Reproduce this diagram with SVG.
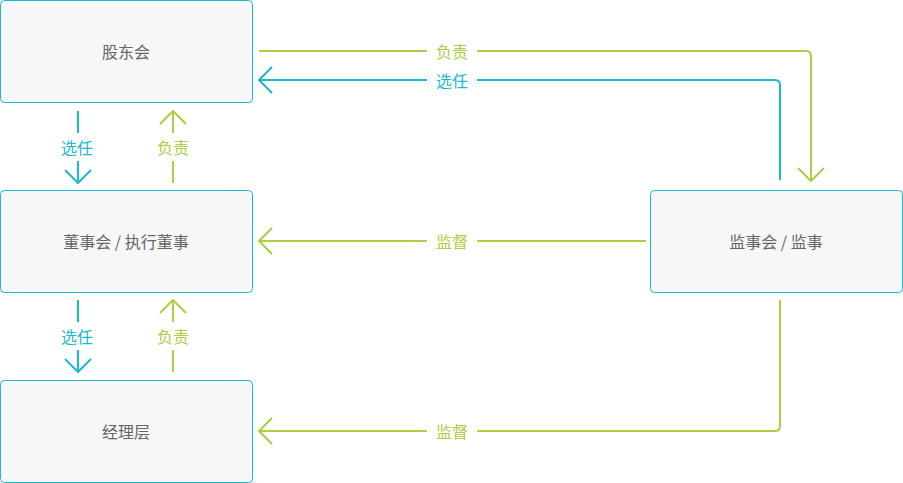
<svg xmlns="http://www.w3.org/2000/svg" width="903" height="483" viewBox="0 0 903 483">
<style>
.node rect{fill:#f7f7f7;stroke:#1bb8d3;stroke-width:1}
.node text{font-family:"Noto Sans CJK SC","Noto Sans",sans-serif;font-size:16px;fill:#666;text-anchor:middle;dominant-baseline:central}
.c{fill:none;stroke-width:2;stroke-linejoin:round}
.b{stroke:#1bb8d3}
.g{stroke:#a8cf45}
.lbl{font-family:"Noto Sans CJK SC","Noto Sans",sans-serif;font-size:16px;text-anchor:middle;dominant-baseline:central}
.lb{fill:#1bb8d3}
.lg{fill:#a8cf45}
</style>
<rect width="903" height="483" fill="#fff"/>
<g id="connectors">
<path class="c g" d="M259 51H427M477 51H806Q811 51 811 56V181"/>
<path class="c g" d="M798 168L811 181L824 168"/>
<text class="lbl lg" x="452" y="51">负责</text>
<path class="c b" d="M780 180V85Q780 80 775 80H477M427 80H259"/>
<path class="c b" d="M272 67L259 80L272 93"/>
<text class="lbl lb" x="452" y="80">选任</text>
<path class="c g" d="M646 241H477M427 241H259"/>
<path class="c g" d="M272 228L259 241L272 254"/>
<text class="lbl lg" x="452" y="241">监督</text>
<path class="c g" d="M780 300V426Q780 431 775 431H477M427 431H259"/>
<path class="c g" d="M272 418L259 431L272 444"/>
<text class="lbl lg" x="452" y="431">监督</text>
<path class="c b" d="M78 111V133M78 161V183"/>
<path class="c b" d="M65 170L78 183L91 170"/>
<text class="lbl lb" x="77" y="147">选任</text>
<path class="c g" d="M173 111V133M173 161V183"/>
<path class="c g" d="M160 124L173 111L186 124"/>
<text class="lbl lg" x="173" y="147">负责</text>
<path class="c b" d="M78 300V322M78 350V372"/>
<path class="c b" d="M65 359L78 372L91 359"/>
<text class="lbl lb" x="77" y="336">选任</text>
<path class="c g" d="M173 372V350M173 322V300"/>
<path class="c g" d="M160 313L173 300L186 313"/>
<text class="lbl lg" x="173" y="336">负责</text>
</g>
<g id="n1" class="node"><rect x="0.5" y="0.5" width="252" height="102" rx="4"/><text x="126" y="51">股东会</text></g>
<g id="n2" class="node"><rect x="0.5" y="190.5" width="252" height="102" rx="4"/><text x="126" y="241">董事会 / 执行董事</text></g>
<g id="n3" class="node"><rect x="0.5" y="380.5" width="252" height="102" rx="4"/><text x="126" y="431">经理层</text></g>
<g id="n4" class="node"><rect x="650.5" y="190.5" width="252" height="102" rx="4"/><text x="776" y="241">监事会 / 监事</text></g>
</svg>
